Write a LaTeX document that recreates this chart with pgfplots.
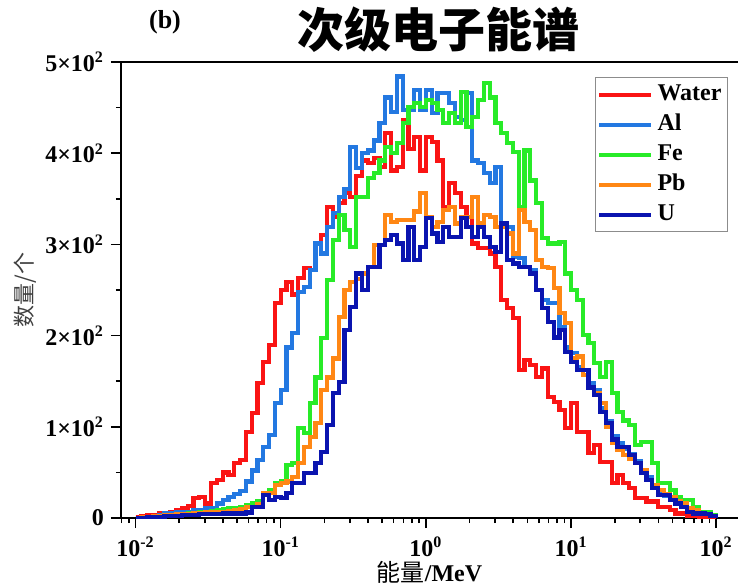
\documentclass[border=0pt]{standalone}
\usepackage{pgfplots}
\pgfplotsset{compat=1.18}
\usepackage{pgfplotstable}
\usepackage{fontspec}
\setmainfont{Liberation Serif}
\newfontfamily\cjk{Noto Sans CJK SC}

\definecolor{cwater}{RGB}{250,20,20}
\definecolor{cal}{RGB}{35,120,225}
\definecolor{cfe}{RGB}{40,235,40}
\definecolor{cpb}{RGB}{255,135,20}
\definecolor{cu}{RGB}{10,20,175}

% bins: left edge in log10(E/MeV), counts per bin
\pgfplotstableread{
lx water al fe pb u
-2.00 1 0 0 0 0
-1.96 2 1 1 1 0
-1.92 3 1 1 1 1
-1.88 3 2 2 2 1
-1.84 5 3 2 2 1
-1.80 4 5 3 3 2
-1.76 7 5 3 3 2
-1.72 9 7 4 4 2
-1.68 11 7 4 4 3
-1.64 13 7 5 4 3
-1.60 22 9 5 5 3
-1.56 23 9 6 5 4
-1.52 16 11 7 6 4
-1.48 38 11 8 6 4
-1.44 42 16 9 7 4
-1.40 50 20 10 7 5
-1.36 47 23 11 8 5
-1.32 60 26 11 9 5
-1.28 64 30 12 10 5
-1.24 94 40 14 12 6
-1.20 115 52 16 12 12
-1.16 148 64 18 15 12
-1.12 171 78 25 27 25
-1.08 190 91 31 27 20
-1.04 236 126 38 36 23
-1.00 250 140 40 38 22
-0.96 259 187 58 40 27
-0.92 245 203 60 45 38
-0.88 263 248 99 60 38
-0.84 274 253 93 78 49
-0.80 272 272 126 89 49
-0.76 301 301 154 104 60
-0.72 310 290 197 140 72
-0.68 341 319 261 154 102
-0.64 330 334 305 175 137
-0.60 345 352 332 220 149
-0.56 356 361 316 250 206
-0.52 352 407 297 259 231
-0.48 375 384 352 262 268
-0.44 392 400 352 268 250
-0.40 389 403 373 275 275
-0.36 395 414 378 299 275
-0.32 385 433 392 299 299
-0.28 422 461 407 332 305
-0.24 381 445 400 325 310
-0.20 385 484 411 327 301
-0.16 436 447 433 327 283
-0.12 405 447 451 327 319
-0.08 418 469 455 336 283
-0.04 381 447 451 356 297
0.00 418 469 458 330 329
0.04 412 444 455 319 312
0.08 392 466 447 325 303
0.12 341 466 433 338 319
0.16 367 455 444 341 308
0.20 356 440 433 323 308
0.24 341 436 467 330 329
0.28 330 466 429 330 319
0.32 301 392 440 352 308
0.36 296 389 458 323 319
0.40 296 378 477 332 308
0.44 290 367 461 330 297
0.48 275 385 433 319 292
0.52 239 319 422 319 323
0.56 230 319 411 312 283
0.60 219 286 401 290 279
0.64 162 285 341 338 275
0.68 173 275 403 325 275
0.72 168 272 370 316 268
0.76 155 250 345 283 250
0.80 164 239 307 275 230
0.84 133 236 301 274 215
0.88 127 236 301 252 198
0.92 118 209 303 225 206
0.96 99 187 268 214 182
1.00 126 181 250 175 171
1.04 94 165 239 177 162
1.08 94 162 201 157 162
1.12 71 148 192 144 143
1.16 80 140 170 137 135
1.20 61 120 155 126 116
1.24 61 106 171 100 104
1.28 38 90 137 82 86
1.32 47 82 116 75 78
1.36 38 76 107 69 78
1.40 33 70 102 65 69
1.44 22 62 80 60 60
1.48 22 52 83 53 49
1.52 18 45 83 42 42
1.56 18 36 60 36 33
1.60 12 28 38 31 25
1.64 12 24 38 26 25
1.68 9 20 31 23 20
1.72 5 16 23 18 16
1.76 5 12 20 16 12
1.80 2 9 20 11 7
1.84 2 7 12 9 5
1.88 0 6 7 5 5
1.92 0 5 7 4 4
1.96 0 3 3 2 2
2.00 0 0 0 0 0
}\spectra

\begin{document}
\begin{tikzpicture}
\begin{axis}[
  width=308.5pt, height=228pt, scale only axis,
  xmin=-2.1, xmax=2.15, ymin=0, ymax=500,
  axis lines*=left,
  axis line style={line width=0.8pt},
  tick align=outside,
  major tick length=5pt, minor tick length=2.5pt,
  every tick/.style={black, line width=0.8pt},
  xtick={-2,-1,0,1,2},
  xticklabels={\textbf{10\textsuperscript{-2}},\textbf{10\textsuperscript{-1}},\textbf{10\textsuperscript{0}},\textbf{10\textsuperscript{1}},\textbf{10\textsuperscript{2}}},
  minor xtick={-2.097,-2.046,
    -1.699,-1.523,-1.398,-1.301,-1.222,-1.155,-1.097,-1.046,
    -0.699,-0.523,-0.398,-0.301,-0.222,-0.155,-0.097,-0.046,
    0.301,0.477,0.602,0.699,0.778,0.845,0.903,0.954,
    1.301,1.477,1.602,1.699,1.778,1.845,1.903,1.954},
  ytick={0,100,200,300,400,500},
  minor ytick={50,150,250,350,450},
  yticklabels={\textbf{0},\textbf{1×10\textsuperscript{2}},\textbf{2×10\textsuperscript{2}},\textbf{3×10\textsuperscript{2}},\textbf{4×10\textsuperscript{2}},\textbf{5×10\textsuperscript{2}}},
  tick label style={font=\fontsize{12}{14}\selectfont},
  xticklabel style={yshift=-1pt},
  every axis plot/.append style={const plot, line width=2.1pt},
  legend style={at={(0.984,0.967)}, anchor=north east, draw=black!45,
    line width=0.6pt, font=\fontsize{12}{14}\selectfont\bfseries,
    inner sep=1pt,
    nodes={inner sep=2pt, text height=8.5pt, text depth=2.5pt},
    /tikz/every even column/.append style={column sep=3pt}},
  legend cell align=left,
  legend image code/.code={\draw[#1] (0pt,0pt) -- (26pt,0pt);},
]
\addplot[cwater] table[x=lx, y=water] {\spectra};
\addlegendentry{Water}
\addplot[cal] table[x=lx, y=al] {\spectra};
\addlegendentry{Al}
\addplot[cfe] table[x=lx, y=fe] {\spectra};
\addlegendentry{Fe}
\addplot[cpb] table[x=lx, y=pb] {\spectra};
\addlegendentry{Pb}
\addplot[cu] table[x=lx, y=u] {\spectra};
\addlegendentry{U}

\coordinate (tl) at (rel axis cs:0,1);
\coordinate (tr) at (rel axis cs:1,1);
\coordinate (bl) at (rel axis cs:0,0);
\coordinate (ml) at (rel axis cs:0,0.5);
\coordinate (bm) at (rel axis cs:0.5,0);
\end{axis}

% top frame line
\draw[line width=0.8pt] ([xshift=-5pt]tl) -- (tr);

\node[font=\fontsize{13}{15}\selectfont\bfseries] at ([xshift=22pt,yshift=20pt]tl) {(b)};
\node[font=\cjk\bfseries\fontsize{23.5}{26}\selectfont] at ([xshift=158.5pt,yshift=16pt]tl) {次级电子能谱};
\node[rotate=90, font=\cjk\fontsize{11}{13}\selectfont, text=black!75] at ([xshift=-48pt]ml) {数量/个};
\node[font=\fontsize{12}{14}\selectfont, anchor=base] at ([yshift=-31.5pt]bm) {{\cjk 能量}\textbf{/MeV}};

\pgfresetboundingbox
\path ([xshift=-60.5pt,yshift=-33pt]bl) rectangle ([yshift=31pt]tr);
\end{tikzpicture}
\end{document}
